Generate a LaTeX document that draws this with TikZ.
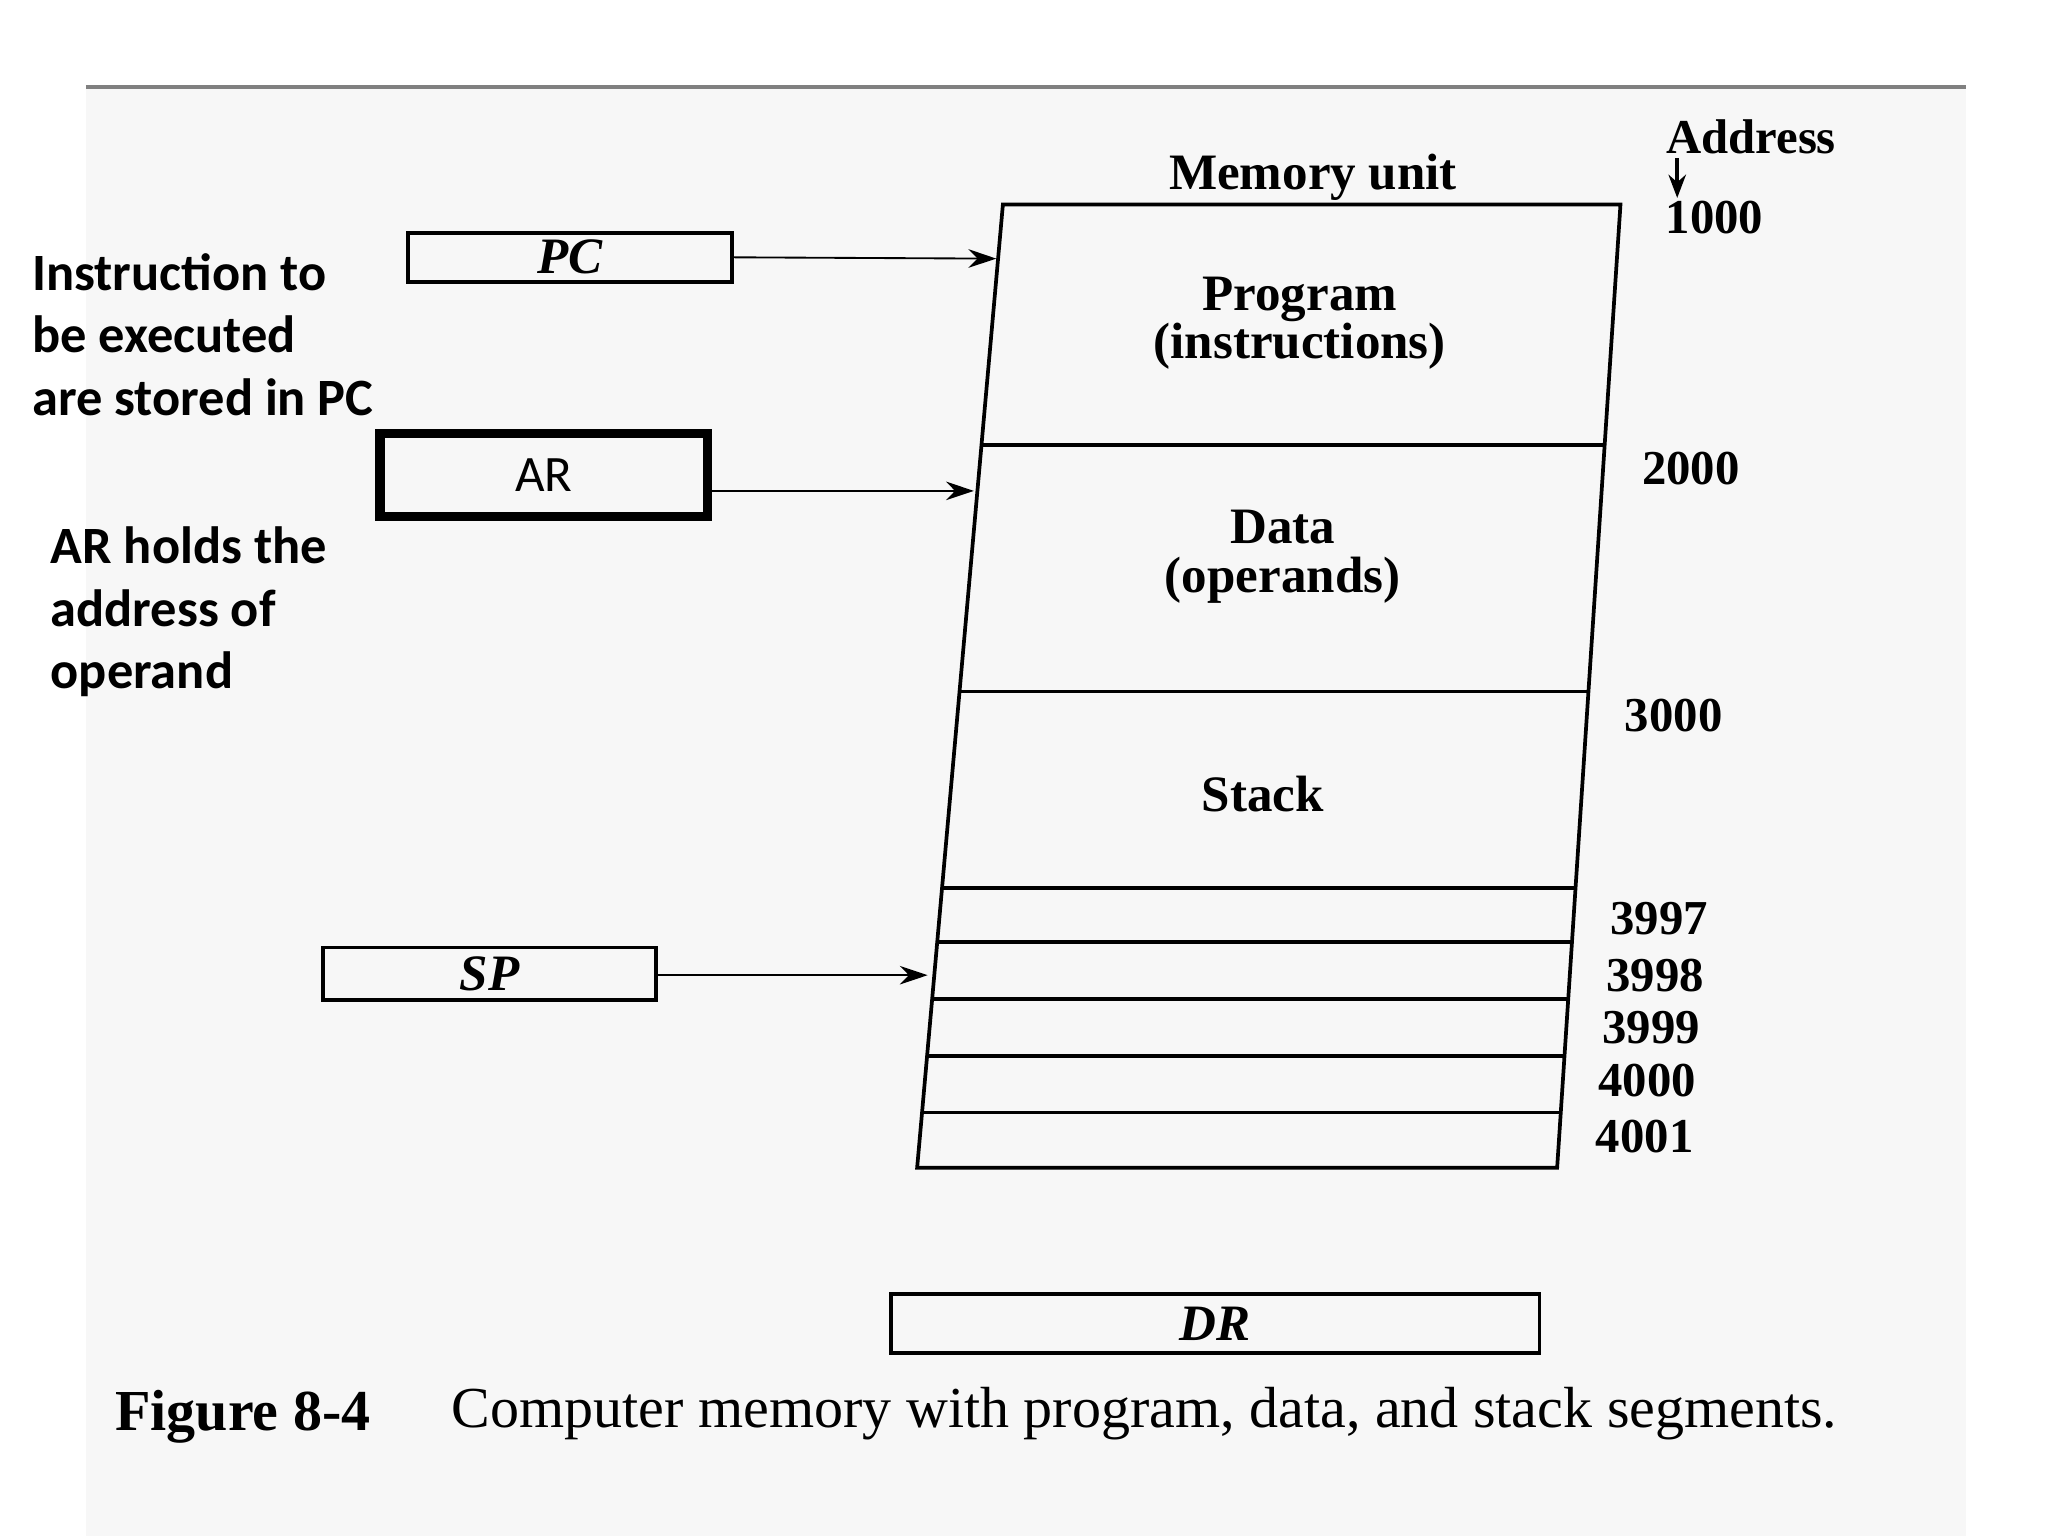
\documentclass[tikz,border=0pt]{standalone}
\usepackage{fontspec}
\setmainfont{Liberation Serif}
\newfontfamily\carfont{Carlito}
\usetikzlibrary{calc,arrows.meta}
\begin{document}
\begin{tikzpicture}[x=0.01cm,y=-0.01cm,
  reg/.style={draw,thick,inner sep=0},
  arr/.style={-{Stealth[length=6pt,width=4pt]},thin},
  addr/.style={font=\fontsize{10.5}{10.5}\selectfont\bfseries,anchor=west},
  lbl/.style={font=\fontsize{11}{10.5}\selectfont\bfseries,align=center},
  note/.style={font=\carfont\bfseries\fontsize{11.3}{13.4}\selectfont,align=left,anchor=north west}]
\useasboundingbox (0,0) rectangle (1552,1164);
\fill[white] (0,0) rectangle (1552,1164);
\fill[black!3] (65,66) rectangle (1490,1164);
\draw[gray,line width=1pt] (65,66) -- (1490,66);
% memory
\coordinate (TL) at (760,155); \coordinate (TR) at (1228,155);
\coordinate (BL) at (695,885); \coordinate (BR) at (1180,885);
\draw[thick] (TL) -- (TR) -- (BR) -- (BL) -- cycle;
\foreach \y/\n in {337/a,524/b,673/c,714/d,757/e,800/f,843/g}{
  \pgfmathsetmacro\t{(\y-155)/730}
  \draw[thick] ($(TL)!\t!(BL)$) coordinate (L\n) -- ($(TR)!\t!(BR)$) coordinate (R\n);
}
\node[lbl] (mu) at (995,134) {Memory unit};
\node[lbl] (prog) at (985,245) {Program\\(instructions)};
\node[lbl] (data) at (972,422) {Data\\(operands)};
\node[lbl] (stk) at (957,602) {Stack};
\node[lbl,font=\fontsize{10.5}{10.5}\selectfont\bfseries] (ad) at (1327,104) {Address};
\coordinate (adt) at (1271,120);\coordinate (adb) at (1271,150);
\draw[-{Stealth[length=5pt]},thick] (adt) -- (adb);
\node[addr] (a1) at (1250,165) {1000};
\node[addr] (a2) at (1232,355) {2000};
\node[addr] (a3) at (1219,542) {3000};
\node[addr] (a4) at (1208,696) {3997};
\node[addr] (a5) at (1205,739) {3998};
\node[addr] (a6) at (1202,779) {3999};
\node[addr] (a7) at (1199,819) {4000};
\node[addr] (a8) at (1197,861) {4001};
% registers
\node[reg,minimum width=2.45cm,minimum height=0.37cm] (pc) at (432,195) {\bfseries\itshape\fontsize{11}{11}\selectfont PC};
\node[draw,line width=2pt,minimum width=2.48cm,minimum height=0.63cm,inner sep=0,font=\carfont\fontsize{11}{11}\selectfont] (ar) at (412,360) {AR};
\node[reg,minimum width=2.52cm,minimum height=0.40cm] (sp) at (371,738) {\bfseries\itshape\fontsize{11}{11}\selectfont SP};
\node[reg,minimum width=4.91cm,minimum height=0.45cm] (dr) at (921,1003) {\bfseries\itshape\fontsize{11}{11}\selectfont DR};
\coordinate (pcT) at (755,196); \coordinate (arT) at (738,372); \coordinate (spT) at (703,739);
\draw[arr] (pc.east) -- (pcT);
\draw[arr] (ar.east|-arT) -- (arT);
\draw[arr] (sp.east|-spT) -- (spT);
\node[note] (n1) at (12,180) {Instruction to\\be executed\\are stored in PC};
\node[note] (n2) at (26,387) {AR holds the\\address of\\operand};
\node[anchor=west,font=\fontsize{12.5}{12.5}\selectfont\bfseries] (fig) at (75,1074) {Figure 8-4};
\node[anchor=west,font=\fontsize{12.5}{12.5}\selectfont] (cap) at (330,1071) {Computer memory with program, data, and stack segments.};
\end{tikzpicture}
\end{document}
